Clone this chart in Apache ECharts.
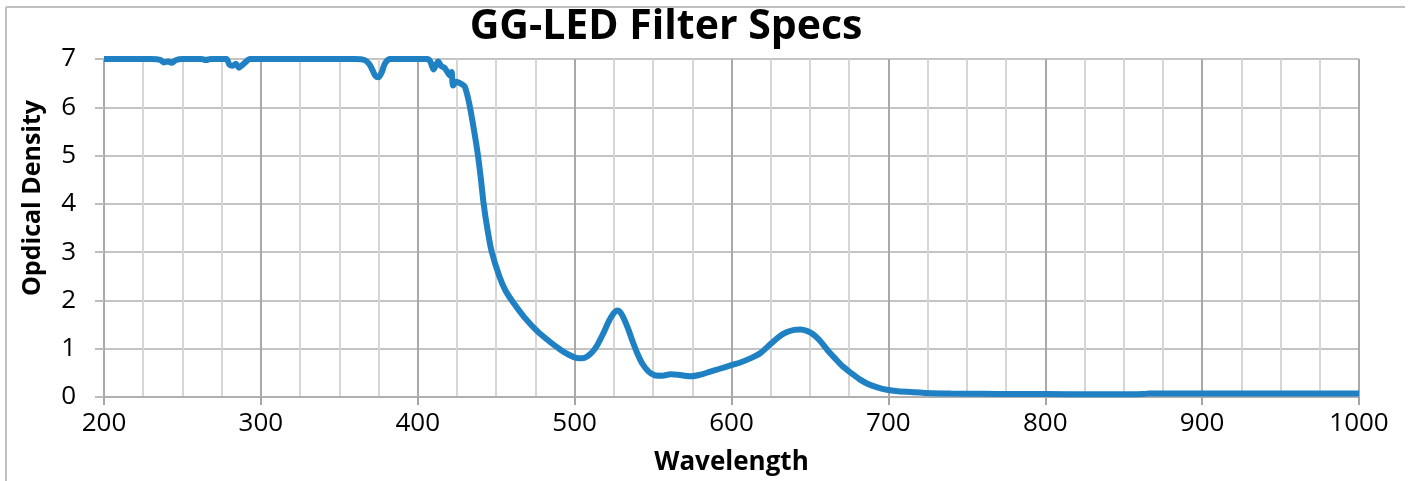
<!DOCTYPE html>
<html>
<head>
<meta charset="utf-8">
<script src="https://cdn.jsdelivr.net/npm/echarts@6/dist/echarts.min.js"></script>
<style>
html,body{margin:0;padding:0;background:#fff;}
#chart{width:1413px;height:481px;}
</style>
</head>
<body>
<div id="chart"></div>
<script>
const wavelengths = [200,230,236,238,241,243,246,250,262,265,268,278,280,282,284,286,288,290,293,300,360,366,369,371,373,375,377,379,382,385,400,406,408,410,412,413,415,417,418.5,420.5,421.6,422.5,424.8,428,430,433,436,438.4,440.3,442,444.3,447,452,456,461,468,476,484,491,496,501,505,508,511,514,518,522,525,527,529,531,534,537,540,543,547,551,556,561,566,570,574,580,586,592,599,606,612,618,625,630,635,640,644,648,652,656,661,666,671,677,682,687,693,699,706,716,728,740,760,780,800,830,855,862,866,880,920,960,1000];
const opticalDensity = [7.0,7.0,6.98,6.93,6.95,6.92,6.98,7.0,7.0,6.98,7.0,7.0,6.88,6.86,6.9,6.82,6.87,6.93,7.0,7.0,7.0,6.98,6.9,6.78,6.65,6.62,6.72,6.9,7.0,7.0,7.0,7.0,6.95,6.78,6.9,6.95,6.85,6.82,6.75,6.66,6.73,6.45,6.53,6.48,6.43,6.05,5.5,5.0,4.5,4.0,3.5,3.03,2.5,2.2,1.95,1.65,1.37,1.15,0.98,0.88,0.81,0.80,0.84,0.92,1.05,1.3,1.58,1.74,1.79,1.76,1.65,1.42,1.15,0.9,0.7,0.53,0.45,0.44,0.47,0.46,0.44,0.43,0.46,0.52,0.58,0.65,0.72,0.8,0.9,1.1,1.24,1.34,1.39,1.4,1.37,1.3,1.18,0.98,0.8,0.63,0.48,0.36,0.27,0.2,0.15,0.12,0.1,0.08,0.07,0.065,0.06,0.06,0.055,0.055,0.06,0.07,0.07,0.07,0.07,0.07];
const titleText = 'GG-LED Filter Specs';
const xName = 'Wavelength';
const yName = 'Opdical Density';

const seriesData = wavelengths.map((w, i) => [w, opticalDensity[i]]);
const FONT = '"Open Sans", "DejaVu Sans", sans-serif';

const chart = echarts.init(document.getElementById('chart'), null, {renderer: 'canvas'});
chart.setOption({
  animation: false,
  backgroundColor: '#fff',
  title: {
    text: titleText,
    left: 661,
    top: 2,
    textAlign: 'center',
    textStyle: {fontFamily: FONT, fontWeight: 'bold', fontSize: 41, color: '#000'}
  },
  graphic: [
    {type: 'line', shape: {x1: 6, y1: 7, x2: 1405, y2: 7}, style: {stroke: '#bfbfbf', lineWidth: 2}},
    {type: 'line', shape: {x1: 6, y1: 7, x2: 6, y2: 481}, style: {stroke: '#bfbfbf', lineWidth: 2}},
    {type: 'text', x: 33, y: 198, rotation: Math.PI / 2,
     style: {text: yName, fontFamily: FONT, fontWeight: 'bold', fontSize: 25, fill: '#000', align: 'center', verticalAlign: 'middle'}}
  ],
  grid: {left: 104, right: 54, top: 59, bottom: 84},
  xAxis: {
    type: 'value', min: 200, max: 1000, interval: 100,
    name: xName, nameLocation: 'middle', nameGap: 53,
    nameTextStyle: {fontFamily: FONT, fontWeight: 'bold', fontSize: 26, color: '#000'},
    axisLine: {show: true, lineStyle: {color: '#b0b0b0', width: 2}},
    axisTick: {show: true, length: 8, lineStyle: {color: '#a6a6a6', width: 2}},
    axisLabel: {fontFamily: FONT, fontSize: 26, color: '#000', margin: 14, formatter: v => String(v)},
    splitLine: {show: true, lineStyle: {color: '#a9a9a9', width: 2}},
    minorTick: {show: false, splitNumber: 4},
    minorSplitLine: {show: true, lineStyle: {color: '#d6d6d6', width: 2}}
  },
  yAxis: {
    type: 'value', min: 0, max: 7, interval: 1,
    axisLine: {show: false},
    axisTick: {show: true, length: 9, lineStyle: {color: '#bdbdbd', width: 2}},
    axisLabel: {fontFamily: FONT, fontSize: 26, color: '#000', margin: 28},
    splitLine: {show: true, lineStyle: {color: '#c4c4c4', width: 2}}
  },
  series: [{
    type: 'line',
    data: seriesData,
    showSymbol: false,
    smooth: 0.25,
    lineStyle: {color: '#1f80c3', width: 6},
    itemStyle: {color: '#1f80c3'}
  }]
});
</script>
</body>
</html>
